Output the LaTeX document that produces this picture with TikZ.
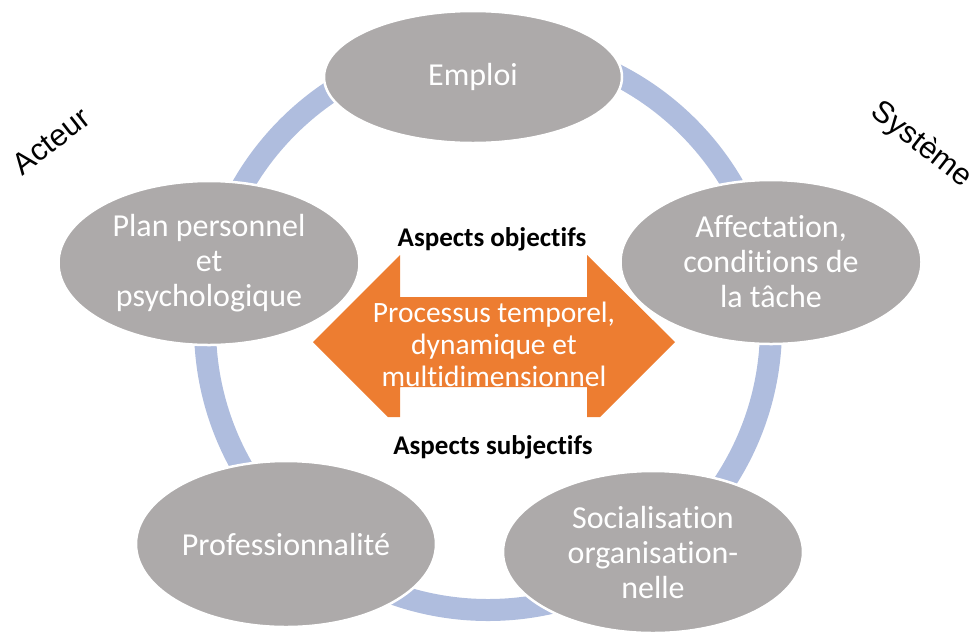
\documentclass[tikz,border=0pt]{standalone}
\usepackage{fontspec}
\setmainfont{Carlito}[Ligatures=NoCommon]
\newfontfamily\labelfont{Liberation Sans}
\usetikzlibrary{shapes.geometric}
\definecolor{ringblue}{RGB}{175,189,222}
\definecolor{bubblegray}{RGB}{173,170,170}
\definecolor{flowor}{RGB}{237,125,49}
\begin{document}
\begin{tikzpicture}[x=1pt,y=-1pt,
  bubble/.style={ellipse, fill=bubblegray, draw=white, line width=2.5pt,
    inner sep=0pt, text=white, align=center, font=\fontsize{32}{35}\selectfont},
  ringline/.style={draw=ringblue, line width=22pt},
  sidelabel/.style={font=\labelfont\fontsize{30.5}{34}\selectfont, text=black, inner sep=0pt},
  aspect/.style={font=\bfseries\fontsize{27}{31}\selectfont, text=black, inner sep=0pt},
  flowtext/.style={text=white, align=center, inner sep=0pt, font=\fontsize{29.5}{32}\selectfont}]
\useasboundingbox (0,0) rectangle (979,633);

% cycle ring behind the stages
\coordinate (hub) at (488,327);
\draw[ringline] (hub) circle (283);

% stages of the cycle
\node[bubble, minimum width=298pt, minimum height=132pt] (emploi) at (473,77) {Emploi};
\node[bubble, minimum width=301pt, minimum height=164pt] (affect) at (771,262)
  {Affectation,\\conditions de\\la tâche};
\node[bubble, minimum width=300pt, minimum height=162pt] (social) at (653,552)
  {Socialisation\\organisation-\\nelle};
\node[bubble, minimum width=300pt, minimum height=166pt] (prof) at (286,544) {Professionnalité};
\node[bubble, minimum width=301pt, minimum height=164pt] (plan) at (209,263)
  {Plan personnel\\et\\psychologique};

% central double arrow (lower edge trimmed flat)
\fill[flowor] (313,342) -- (400,255) -- (400,297) -- (587,297) -- (587,255)
  -- (675,342) -- (600,417) -- (587,417) -- (587,387) -- (400,387)
  -- (400,417) -- (388,417) -- cycle;
\node[flowtext] (proc) at (494,344) {Processus temporel,\\dynamique et\\multidimensionnel};

\node[aspect] (obj) at (492,239) {Aspects objectifs};
\node[aspect] (subj) at (493,447) {Aspects subjectifs};

% side labels
\node[sidelabel, rotate=38] (acteur) at (51,141) {Acteur};
\node[sidelabel, rotate=-38] (systeme) at (921,145) {Système};
\end{tikzpicture}
\end{document}
